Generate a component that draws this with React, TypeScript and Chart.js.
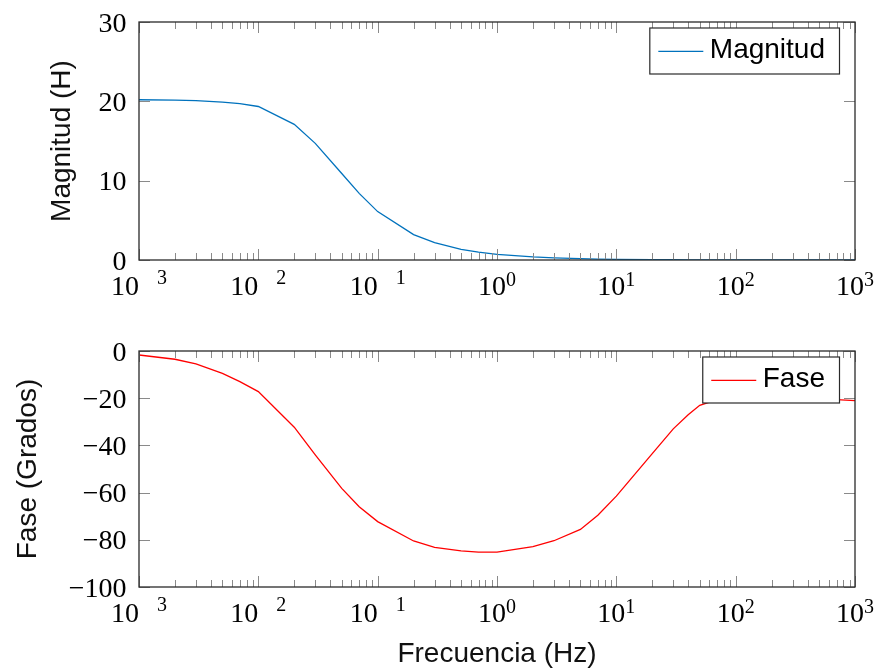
import React, { useEffect, useRef } from 'react';
import { Chart, registerables } from 'chart.js';

Chart.register(...registerables);

// ---------- data ----------
const frequencies = [
  0.001, 0.002, 0.003, 0.005, 0.007,
  0.01, 0.02, 0.03, 0.05, 0.07,
  0.1, 0.2, 0.3, 0.5, 0.7,
  1, 2, 3, 5, 7,
  10, 20, 30, 40, 50, 70,
  100, 200, 300, 500, 700, 1000,
];
const magnitude = [
  20.2, 20.15, 20.1, 19.9, 19.7,
  19.35, 17.1, 14.7, 10.9, 8.4,
  6.1, 3.2, 2.2, 1.35, 0.98,
  0.72, 0.4, 0.28, 0.17, 0.12,
  0.08, 0.04, 0.03, 0.02, 0.02, 0.01,
  0.01, 0.005, 0.004, 0.003, 0.002, 0.001,
];
const phase = [
  -1.7, -3.5, -5.5, -9.5, -13,
  -17.2, -32.3, -44, -58.2, -66,
  -72.3, -80.5, -83.2, -84.7, -85.2,
  -85.2, -82.9, -80.4, -75.6, -69.6,
  -61.5, -43.5, -33, -27, -23, -20.6,
  -20, -19.8, -20, -20.3, -20.6, -21,
];
const xTickExponents = [-3, -2, -1, 0, 1, 2, 3];
const magnitudeTicks = [0, 10, 20, 30];
const phaseTicks = [0, -20, -40, -60, -80, -100];
const magnitudeTitle = 'Magnitud (H)';
const phaseTitle = 'Fase (Grados)';
const xTitle = 'Frecuencia (Hz)';
const magnitudeLegend = 'Magnitud';
const phaseLegend = 'Fase';

const SERIF = '"Liberation Serif", "Times New Roman", serif';
const SANS = '"Liberation Sans", Arial, Helvetica, sans-serif';

function fmtNum(v: number) {
  return v < 0 ? '\u2212' + String(Math.abs(v)) : String(v);
}

const pgfPlugin = {
  id: 'pgfAxes',
  afterDraw(chart: any, _args: any, opts: any) {
    const ctx: CanvasRenderingContext2D = chart.ctx;
    const a = chart.chartArea;
    const xs = chart.scales.x;
    const ys = chart.scales.y;
    ctx.save();

    // minor / major x ticks (inside, top & bottom)
    ctx.strokeStyle = '#8a8a8a';
    ctx.lineWidth = 1;
    for (let e = -3; e <= 3; e++) {
      for (let m = 1; m <= 9; m++) {
        if (e === 3 && m > 1) break;
        const v = m * Math.pow(10, e);
        const x = Math.round(xs.getPixelForValue(v)) + 0.5;
        const len = m === 1 ? 11 : 7;
        ctx.beginPath();
        ctx.moveTo(x, a.bottom);
        ctx.lineTo(x, a.bottom - len);
        ctx.moveTo(x, a.top);
        ctx.lineTo(x, a.top + len);
        ctx.stroke();
      }
    }
    // y ticks (inside, left & right)
    for (const v of opts.yTicks as number[]) {
      const y = Math.round(ys.getPixelForValue(v)) + 0.5;
      ctx.beginPath();
      ctx.moveTo(a.left, y);
      ctx.lineTo(a.left + 11, y);
      ctx.moveTo(a.right, y);
      ctx.lineTo(a.right - 11, y);
      ctx.stroke();
    }

    // frame
    ctx.strokeStyle = '#2a2a2a';
    ctx.lineWidth = 1.3;
    ctx.strokeRect(a.left, a.top, a.right - a.left, a.bottom - a.top);

    // y tick labels
    ctx.fillStyle = '#000';
    ctx.font = '28px ' + SERIF;
    ctx.textAlign = 'right';
    ctx.textBaseline = 'alphabetic';
    for (const v of opts.yTicks as number[]) {
      const y = ys.getPixelForValue(v);
      ctx.fillText(fmtNum(v), a.left - 12.5, y + 9.5);
    }

    // x tick labels: 10^e
    ctx.textAlign = 'left';
    const baseY = a.bottom + 35;
    for (const e of xTickExponents) {
      const x = xs.getPixelForValue(Math.pow(10, e));
      ctx.font = '28px ' + SERIF;
      const w10 = ctx.measureText('10').width;
      ctx.font = '20px ' + SERIF;
      const digits = String(Math.abs(e));
      const wd = ctx.measureText(digits).width;
      const gap = e < 0 ? 18 : 0;
      const total = w10 + gap + wd;
      const left = x - total / 2;
      ctx.font = '28px ' + SERIF;
      ctx.fillText('10', left, baseY);
      ctx.font = '20px ' + SERIF;
      ctx.fillText(digits, left + w10 + gap, baseY - (e < 0 ? 11 : 9.5));
    }

    // y title
    ctx.font = '28px ' + SANS;
    ctx.textAlign = 'center';
    ctx.fillStyle = '#111';
    ctx.save();
    ctx.translate(opts.yTitleX, (a.top + a.bottom) / 2);
    ctx.rotate(-Math.PI / 2);
    ctx.fillText(opts.yTitle, 0, 0);
    ctx.restore();

    // x title
    if (opts.xTitle) {
      ctx.fillText(opts.xTitle, (a.left + a.right) / 2, a.bottom + 75);
    }

    // legend
    ctx.font = '28px ' + SANS;
    const tw = ctx.measureText(opts.legendText).width;
    const bw = 60 + tw + 14.5;
    const bh = 46;
    const bx = a.right - 15.5 - bw;
    const by = a.top + 6;
    ctx.fillStyle = '#fff';
    ctx.fillRect(bx, by, bw, bh);
    ctx.strokeStyle = '#2a2a2a';
    ctx.lineWidth = 1.2;
    ctx.strokeRect(bx, by, bw, bh);
    ctx.strokeStyle = opts.legendColor;
    ctx.lineWidth = 1.3;
    ctx.beginPath();
    ctx.moveTo(bx + 8.5, by + 23.3);
    ctx.lineTo(bx + 53.5, by + 23.3);
    ctx.stroke();
    ctx.fillStyle = '#000';
    ctx.textAlign = 'left';
    ctx.fillText(opts.legendText, bx + 60, by + 30);

    ctx.restore();
  },
};

function makeConfig(values: number[], color: string, yMin: number, yMax: number, padding: any, pluginOpts: any): any {
  return {
    type: 'line',
    data: {
      datasets: [
        {
          data: frequencies.map((f, i) => ({ x: f, y: values[i] })),
          borderColor: color,
          borderWidth: 1.3,
          pointRadius: 0,
          fill: false,
          tension: 0,
        },
      ],
    },
    options: {
      responsive: false,
      animation: false,
      events: [],
      layout: { padding },
      scales: {
        x: { type: 'logarithmic', min: 0.001, max: 1000, display: false },
        y: { type: 'linear', min: yMin, max: yMax, display: false },
      },
      plugins: {
        legend: { display: false },
        tooltip: { enabled: false },
        title: { display: false },
        pgfAxes: pluginOpts,
      },
    },
    plugins: [pgfPlugin],
  };
}

export default function App() {
  const topRef = useRef<HTMLCanvasElement>(null);
  const botRef = useRef<HTMLCanvasElement>(null);

  useEffect(() => {
    const c1 = new Chart(
      topRef.current as HTMLCanvasElement,
      makeConfig(magnitude, '#0072BD', 0, 30, { left: 139, right: 23, top: 22, bottom: 75 }, {
        yTicks: magnitudeTicks,
        yTitle: magnitudeTitle,
        yTitleX: 70,
        legendText: magnitudeLegend,
        legendColor: '#0072BD',
        xTitle: null,
      })
    );
    const c2 = new Chart(
      botRef.current as HTMLCanvasElement,
      makeConfig(phase, '#FF0000', -100, 0, { left: 139, right: 23, top: 16, bottom: 84 }, {
        yTicks: phaseTicks,
        yTitle: phaseTitle,
        yTitleX: 36,
        legendText: phaseLegend,
        legendColor: '#FF0000',
        xTitle: xTitle,
      })
    );
    return () => {
      c1.destroy();
      c2.destroy();
    };
  }, []);

  return (
    <div style={{ position: 'absolute', left: 0, top: 0, width: 878, height: 671, background: '#fff' }}>
      <canvas ref={topRef} width={878} height={335} style={{ position: 'absolute', left: 0, top: 0, display: 'block' }} />
      <canvas ref={botRef} width={878} height={336} style={{ position: 'absolute', left: 0, top: 335, display: 'block' }} />
    </div>
  );
}
